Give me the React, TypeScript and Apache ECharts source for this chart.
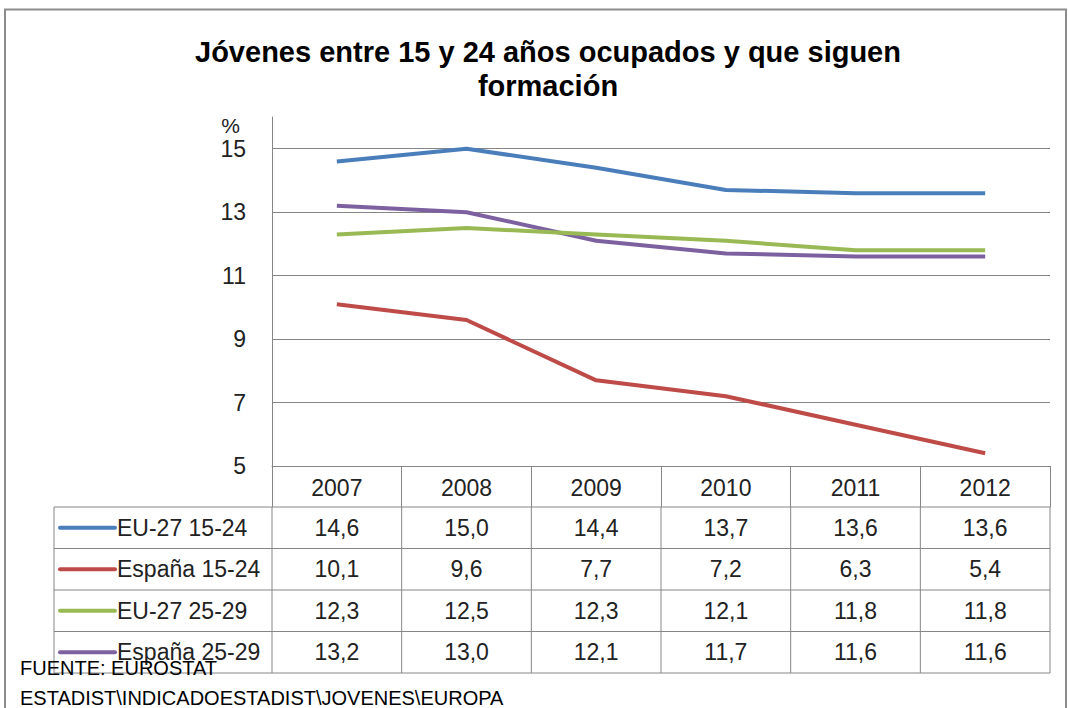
import React, { useEffect, useRef } from "react";
import * as echarts from "echarts";

const years = ["2007", "2008", "2009", "2010", "2011", "2012"];
const seriesNames = ["EU-27 15-24", "España 15-24", "EU-27 25-29", "España 25-29"];
const eu1524 = [14.6, 15.0, 14.4, 13.7, 13.6, 13.6];
const es1524 = [10.1, 9.6, 7.7, 7.2, 6.3, 5.4];
const eu2529 = [12.3, 12.5, 12.3, 12.1, 11.8, 11.8];
const es2529 = [13.2, 13.0, 12.1, 11.7, 11.6, 11.6];
const seriesValues = [eu1524, es1524, eu2529, es2529];
const colors = ["#4A7EBB", "#BE4B48", "#98B954", "#7D60A0"];
const titleText = "Jóvenes entre 15 y 24 años ocupados y que siguen\nformación";
const unitLabel = "%";
const sourceLines = ["FUENTE: EUROSTAT", "ESTADIST\\INDICADOESTADIST\\JOVENES\\EUROPA"];

const FONT = "'Liberation Sans', Arial, sans-serif";
const GRAY = "#868686";
const fmt = (v: number) => v.toFixed(1).replace(".", ",");

export default function App() {
  const ref = useRef<HTMLDivElement>(null);
  useEffect(() => {
    document.body.style.margin = "0";
    const chart = echarts.init(ref.current!, undefined, { renderer: "svg" });
    chart.setOption({
      animation: false,
      backgroundColor: "#ffffff",
      title: {
        text: titleText,
        left: 543,
        top: 30,
        textAlign: "center",
        textStyle: { fontFamily: FONT, fontSize: 29, fontWeight: "bold", color: "#000", lineHeight: 34 },
      },
      grid: { left: 272, top: 117, right: 18, bottom: 242 },
      xAxis: {
        type: "category",
        data: years,
        boundaryGap: true,
        axisLine: { lineStyle: { color: GRAY, width: 1 } },
        axisTick: { show: true, length: 41, lineStyle: { color: GRAY, width: 1 } },
        axisLabel: { margin: 10, fontFamily: FONT, fontSize: 23, color: "#222" },
      },
      yAxis: {
        type: "value",
        min: 5,
        max: 16,
        interval: 2,
        name: unitLabel,
        nameLocation: "end",
        nameGap: -19,
        nameTextStyle: { fontFamily: FONT, fontSize: 21, color: "#222", align: "right", padding: [0, 32, 0, 0] },
        axisLine: { show: true, lineStyle: { color: GRAY, width: 1 } },
        axisTick: { show: false },
        axisLabel: { margin: 26, fontFamily: FONT, fontSize: 23, color: "#222", showMaxLabel: false },
        splitLine: { show: true, showMaxLine: false, lineStyle: { color: GRAY, width: 1 } },
      },
      series: seriesNames.map((name, i) => ({
        name,
        type: "line",
        data: seriesValues[i],
        symbol: "none",
        lineStyle: { color: colors[i], width: 4 },
        itemStyle: { color: colors[i] },
        z: 10 - i,
      })),
    });

    const xs = years.map((y) => chart.convertToPixel({ xAxisIndex: 0 }, y) as number);
    const colW = xs[1] - xs[0];
    const y0 = chart.convertToPixel({ yAxisIndex: 0 }, 5) as number;
    const headerH = 41;
    const rowH = 41.5;
    const tableLeft = 54;
    const leftEdge = xs[0] - colW / 2;
    const rightEdge = xs[xs.length - 1] + colW / 2;
    const bodyTop = y0 + headerH;
    const bodyBottom = bodyTop + rowH * seriesNames.length;
    const lineStyle = { stroke: GRAY, lineWidth: 1 };
    const els: any[] = [];
    for (let r = 0; r <= seriesNames.length; r++) {
      const y = bodyTop + r * rowH;
      els.push({ type: "line", shape: { x1: tableLeft, y1: y, x2: rightEdge, y2: y }, style: lineStyle, silent: true });
    }
    els.push({ type: "line", shape: { x1: tableLeft, y1: bodyTop, x2: tableLeft, y2: bodyBottom }, style: lineStyle, silent: true });
    for (let c = 0; c <= years.length; c++) {
      const x = leftEdge + c * colW;
      els.push({ type: "line", shape: { x1: x, y1: bodyTop, x2: x, y2: bodyBottom }, style: lineStyle, silent: true });
    }
    seriesNames.forEach((name, r) => {
      const cy = bodyTop + r * rowH + rowH / 2;
      els.push({
        type: "line",
        shape: { x1: 60, y1: cy, x2: 115, y2: cy },
        style: { stroke: colors[r], lineWidth: 4, lineCap: "round" },
        silent: true,
      });
      els.push({
        type: "text",
        x: 117,
        y: cy,
        style: { text: name, fontFamily: FONT, fontSize: 23, fill: "#222", textAlign: "left", textVerticalAlign: "middle" },
        silent: true,
      });
      seriesValues[r].forEach((v, c) => {
        els.push({
          type: "text",
          x: xs[c],
          y: cy,
          style: { text: fmt(v), fontFamily: FONT, fontSize: 23, fill: "#222", textAlign: "center", textVerticalAlign: "middle" },
          silent: true,
        });
      });
    });
    sourceLines.forEach((t, i) => {
      els.push({
        type: "text",
        x: 20,
        y: 668 + i * 30,
        z: 100,
        style: { text: t, fontFamily: FONT, fontSize: 20, fill: "#000", textAlign: "left", textVerticalAlign: "middle" },
        silent: true,
      });
    });
    els.push({
      type: "rect",
      shape: { x: 5, y: 9.5, width: 1061, height: 720 },
      style: { fill: "none", stroke: "#8c8c8c", lineWidth: 2 },
      silent: true,
    });
    chart.setOption({ graphic: { elements: els } });
    return () => chart.dispose();
  }, []);
  return <div ref={ref} style={{ width: 1068, height: 708 }} />;
}
